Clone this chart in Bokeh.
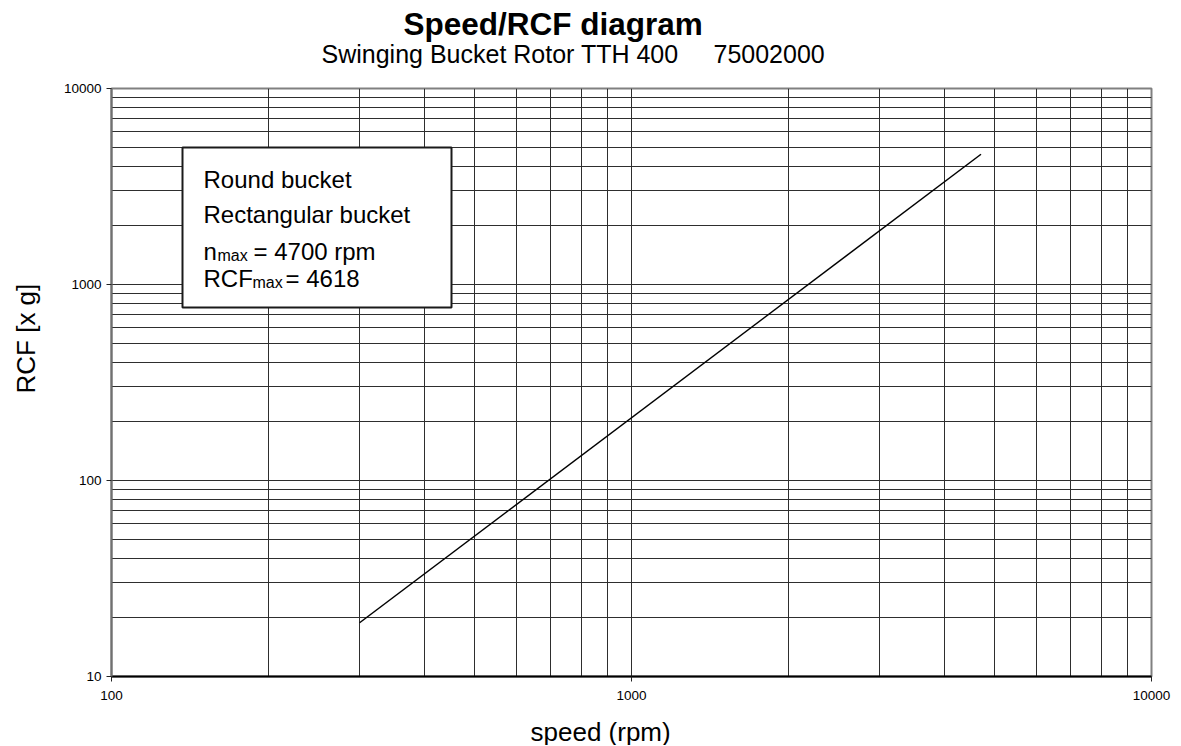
import math
from bokeh.plotting import figure
from bokeh.models import FixedTicker, Label, BoxAnnotation, Range1d
from bokeh.embed import file_html
from bokeh.resources import INLINE

# ---------------- data ----------------
speed_rpm = [300, 4700]
rcf_xg = [18.8, 4618]

x_major = [100, 1000, 10000]
x_major_labels = ["100", "1000", "10000"]
x_minor = [200, 300, 400, 500, 600, 700, 800, 900,
           2000, 3000, 4000, 5000, 6000, 7000, 8000, 9000]
y_major = [10, 100, 1000, 10000]
y_major_labels = ["10", "100", "1000", "10000"]
y_minor = [20, 30, 40, 50, 60, 70, 80, 90,
           200, 300, 400, 500, 600, 700, 800, 900,
           2000, 3000, 4000, 5000, 6000, 7000, 8000, 9000]

title_text = "Speed/RCF diagram"
subtitle_parts = ["Swinging Bucket Rotor TTH 400", "75002000"]
x_label = "speed (rpm)"
y_label = "RCF [x g]"
box_lines = ["Round bucket", "Rectangular bucket"]
nmax_text = ("n", "max", "= 4700 rpm")
rcfmax_text = ("RCF", "max", "= 4618")

FONT = "Liberation Sans"
GRID = "#2e2e2e"

# ---------------- layout (pixels) ----------------
W, H = 1175, 745
FL, FR, FT, FB = 111, 1151, 88, 676   # frame edges on the page
SHIFT = 9                              # baseline correction of the svg text

p = figure(width=W, height=H, x_axis_type="log", y_axis_type="log",
           x_range=Range1d(x_major[0], x_major[-1]),
           y_range=Range1d(y_major[0], y_major[-1]),
           output_backend="svg", toolbar_location=None,
           min_border_left=FL, min_border_right=W - FR,
           min_border_top=FT, min_border_bottom=H - FB)
p.background_fill_color = "white"
p.border_fill_color = "white"
p.outline_line_color = "#808080"
p.outline_line_width = 2

xt = FixedTicker(ticks=x_major, minor_ticks=x_minor)
yt = FixedTicker(ticks=y_major, minor_ticks=y_minor)
p.xaxis.ticker = xt
p.yaxis.ticker = yt
p.xgrid.ticker = xt
p.ygrid.ticker = yt
p.xaxis.major_label_overrides = dict(zip(x_major, x_major_labels))
p.yaxis.major_label_overrides = dict(zip(y_major, y_major_labels))

for g in (p.xgrid, p.ygrid):
    g.grid_line_color = GRID
    g.grid_line_width = 1
    g.minor_grid_line_color = GRID
    g.minor_grid_line_width = 1

for ax in (p.xaxis, p.yaxis):
    ax.minor_tick_line_color = None
    ax.major_tick_in = 0
    ax.major_tick_out = 5
    ax.major_tick_line_color = "#222222"
    ax.major_label_text_font = FONT
    ax.major_label_text_font_size = "13.5px"
    ax.major_label_text_color = "black"
    ax.major_label_standoff = 5
p.xaxis.major_label_standoff = 9
p.xaxis.axis_line_color = "black"
p.xaxis.axis_line_width = 2
p.yaxis.axis_line_color = "#707070"
p.yaxis.axis_line_width = 2

# curve
p.line(speed_rpm, rcf_xg, line_color="black", line_width=1.5)

# ---------------- texts anchored at the frame's top-left corner ----------------
AX, AY = x_major[0], y_major[-1]

def lab(text, px, py, size, style="normal", angle=0.0, place=None):
    if angle:
        px = px - SHIFT
    else:
        py = py - SHIFT
    lb = Label(x=AX, y=AY, x_offset=px - FL, y_offset=-(py - FT),
               text=text, angle=angle,
               text_font=FONT, text_font_size=size, text_font_style=style,
               text_color="black", text_baseline="alphabetic",
               text_align="left")
    if place is None:
        p.add_layout(lb)
    else:
        p.add_layout(lb, place)

lab(title_text, 403, 32, "31.5px", "bold", place="above")
lab(subtitle_parts[0], 321, 62, "25px", place="above")
lab(subtitle_parts[1], 713, 62, "25px", place="above")
lab(x_label, 530, 740, "26px", place="below")
lab(y_label, 34, 393, "26px", angle=math.pi / 2, place="left")

# annotation box
PX_DEC_X = (FR - FL) / 2.0
PX_DEC_Y = (FB - FT) / 3.0

def to_x(px):
    return 10 ** (math.log10(x_major[0]) + (px - FL) / PX_DEC_X)

def to_y(py):
    return 10 ** (math.log10(y_major[0]) + (FB - py) / PX_DEC_Y)

bl, bt, br, bb = 182, 147, 451, 307
p.add_layout(BoxAnnotation(left=to_x(bl), right=to_x(br), top=to_y(bt), bottom=to_y(bb),
                           fill_color="white", fill_alpha=1.0,
                           line_color="#1a1a1a", line_alpha=1.0, line_width=2))

lab(box_lines[0], 203, 188, "24px")
lab(box_lines[1], 203, 223, "24px")
lab(nmax_text[0], 203, 260, "24px")
lab(nmax_text[1], 217, 264, "16px")
lab(nmax_text[2], 253, 260, "24px")
lab(rcfmax_text[0], 203, 287, "24px")
lab(rcfmax_text[1], 252, 291, "16px")
lab(rcfmax_text[2], 285, 287, "24px")

open("out.html", "w").write(file_html(p, INLINE))
